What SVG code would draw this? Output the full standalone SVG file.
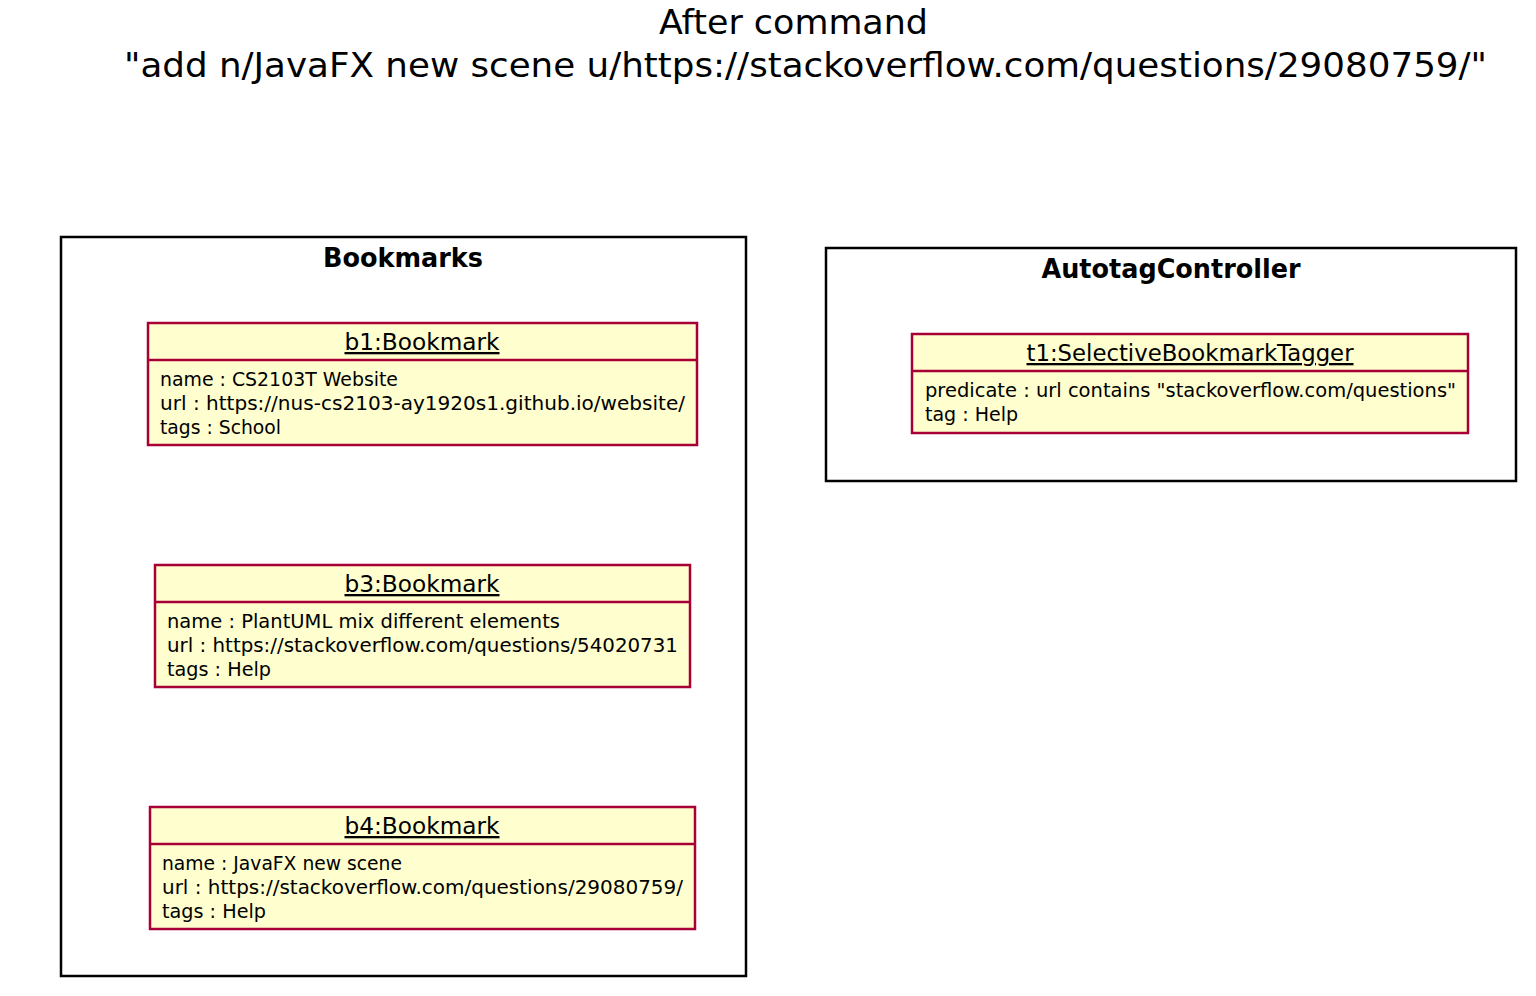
<svg xmlns="http://www.w3.org/2000/svg" width="1536" height="996" viewBox="0 0 1536 996">
<style>
text{font-family:"DejaVu Sans","Liberation Sans",sans-serif;fill:#000}
.title{font-size:34px}
.pkg{fill:none;stroke:#000;stroke-width:2.5}
.pkgt{font-size:26px;font-weight:bold;text-anchor:middle}
.obj{fill:#FEFECE;stroke:#A80036;stroke-width:2.5}
.div{stroke:#A80036;stroke-width:2.5}
.on{font-size:23px;text-anchor:middle;text-decoration:underline}
.at{font-size:19px}
</style>
<rect width="1536" height="996" fill="#fff"/>
<g id="title">
<text class="title" x="659" y="34" textLength="269" lengthAdjust="spacingAndGlyphs">After command</text>
<text class="title" x="124" y="77" textLength="1363" lengthAdjust="spacingAndGlyphs">"add n/JavaFX new scene u/https://stackoverflow.com/questions/29080759/"</text>
</g>
<g id="Bookmarks">
<rect class="pkg" x="61" y="237" width="685" height="739"/>
<text class="pkgt" x="403" y="267" textLength="160" lengthAdjust="spacingAndGlyphs">Bookmarks</text>
</g>
<g id="AutotagController">
<rect class="pkg" x="826" y="248" width="690" height="233"/>
<text class="pkgt" x="1171" y="278" textLength="259" lengthAdjust="spacingAndGlyphs">AutotagController</text>
</g>
<g id="b1">
<rect class="obj" x="148" y="323" width="549" height="122"/>
<line class="div" x1="148" y1="360" x2="697" y2="360"/>
<text class="on" x="422" y="350" textLength="155" lengthAdjust="spacingAndGlyphs">b1:Bookmark</text>
<text class="at" x="160" y="386" textLength="238" lengthAdjust="spacingAndGlyphs">name : CS2103T Website</text>
<text class="at" x="160" y="410" textLength="525" lengthAdjust="spacingAndGlyphs">url : https://nus-cs2103-ay1920s1.github.io/website/</text>
<text class="at" x="160" y="434" textLength="121" lengthAdjust="spacingAndGlyphs">tags : School</text>
</g>
<g id="b3">
<rect class="obj" x="155" y="565" width="535" height="122"/>
<line class="div" x1="155" y1="602" x2="690" y2="602"/>
<text class="on" x="422" y="592" textLength="155" lengthAdjust="spacingAndGlyphs">b3:Bookmark</text>
<text class="at" x="167" y="628" textLength="393" lengthAdjust="spacingAndGlyphs">name : PlantUML mix different elements</text>
<text class="at" x="167" y="652" textLength="511" lengthAdjust="spacingAndGlyphs">url : https://stackoverflow.com/questions/54020731</text>
<text class="at" x="167" y="676" textLength="104" lengthAdjust="spacingAndGlyphs">tags : Help</text>
</g>
<g id="b4">
<rect class="obj" x="150" y="807" width="545" height="122"/>
<line class="div" x1="150" y1="844" x2="695" y2="844"/>
<text class="on" x="422" y="834" textLength="155" lengthAdjust="spacingAndGlyphs">b4:Bookmark</text>
<text class="at" x="162" y="870" textLength="240" lengthAdjust="spacingAndGlyphs">name : JavaFX new scene</text>
<text class="at" x="162" y="894" textLength="521" lengthAdjust="spacingAndGlyphs">url : https://stackoverflow.com/questions/29080759/</text>
<text class="at" x="162" y="918" textLength="104" lengthAdjust="spacingAndGlyphs">tags : Help</text>
</g>
<g id="t1">
<rect class="obj" x="912" y="334" width="556" height="99"/>
<line class="div" x1="912" y1="371" x2="1468" y2="371"/>
<text class="on" x="1190" y="361" textLength="327" lengthAdjust="spacingAndGlyphs">t1:SelectiveBookmarkTagger</text>
<text class="at" x="925" y="397" textLength="531" lengthAdjust="spacingAndGlyphs">predicate : url contains "stackoverflow.com/questions"</text>
<text class="at" x="925" y="421" textLength="93" lengthAdjust="spacingAndGlyphs">tag : Help</text>
</g>
<g id="connectors"/>
</svg>
